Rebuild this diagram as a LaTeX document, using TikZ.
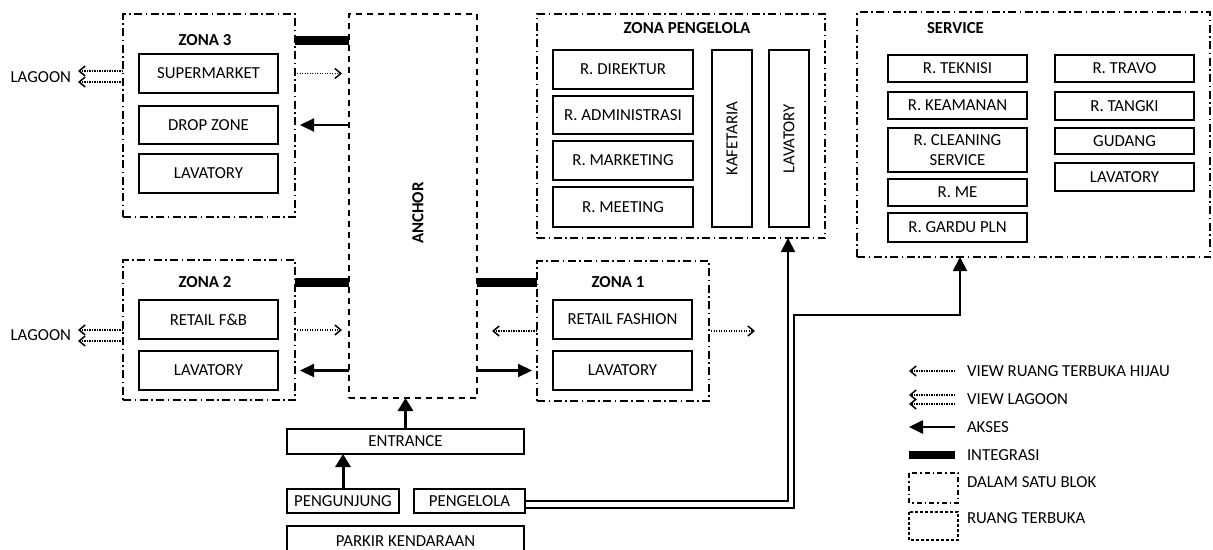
\documentclass[tikz,border=0pt]{standalone}
\usepackage{fontspec}
\setmainfont{Carlito}
\usetikzlibrary{arrows.meta,calc}
\begin{document}
\begin{tikzpicture}[x=1pt,y=-1pt,
  every node/.style={font=\fontsize{16.8}{20}\selectfont, inner sep=0pt, outer sep=0pt},
  blok/.style={draw, line width=1.4pt, dash pattern=on 8pt off 3.5pt on 1.5pt off 3.5pt},
  ruang/.style={draw, line width=2.2pt, dash pattern=on 6pt off 5pt},
  room/.style={draw, line width=1.6pt, align=center},
  ttl/.style={font=\fontsize{16.8}{20}\selectfont\bfseries},
  view/.style={line width=1.6pt, dash pattern=on 1.2pt off 1.3pt, -{Straight Barb[length=6pt,width=10pt,line width=1.5pt]}},
  akses/.style={line width=2.2pt, -{Triangle[length=14pt,width=13pt]}},
  akses2/.style={line width=3pt, -{Triangle[length=13pt,width=15pt]}},
  akses3/.style={line width=1.9pt, -{Triangle[length=14pt,width=14pt]}},
  integ/.style={line width=9pt},
]
\useasboundingbox (0,0) rectangle (1213,549);

% ---------- ZONA 3 ----------
\node[blok, minimum width=172pt, minimum height=203pt] (z3) at (209,115.5) {};
\node[ttl] (t3) at (205,40) {ZONA 3};
\node[room, minimum width=139pt, minimum height=39pt] (sup) at (208.5,73.5) {SUPERMARKET};
\node[room, minimum width=139pt, minimum height=38pt] (drop) at (208.5,125) {DROP ZONE};
\node[room, minimum width=139pt, minimum height=39pt] (lav3) at (208.5,173.5) {LAVATORY};
\node[anchor=east] (lag3) at (71,77) {LAGOON};

% ---------- ZONA 2 ----------
\node[blok, minimum width=172pt, minimum height=140pt] (z2) at (209,330) {};
\node[ttl] (t2) at (205,282.5) {ZONA 2};
\node[room, minimum width=139pt, minimum height=39pt] (rfb) at (208.5,319.5) {RETAIL F\&B};
\node[room, minimum width=139pt, minimum height=39pt] (lav2) at (208.5,370.5) {LAVATORY};
\node[anchor=east] (lag2) at (71,335) {LAGOON};

% ---------- ANCHOR ----------
\node[ruang, minimum width=128pt, minimum height=384pt] (anchor) at (413,206) {};
\node[ttl, rotate=90] (anchortxt) at (418,213) {ANCHOR};

% ---------- ZONA 1 ----------
\node[blok, minimum width=172pt, minimum height=140pt] (z1) at (623,331) {};
\node[ttl] (t1) at (618,282.5) {ZONA 1};
\node[room, minimum width=139pt, minimum height=39pt] (rf) at (622.5,319.5) {RETAIL FASHION};
\node[room, minimum width=139pt, minimum height=39pt] (lav1) at (622.5,370.5) {LAVATORY};

% ---------- ZONA PENGELOLA ----------
\node[blok, minimum width=288pt, minimum height=224pt] (zp) at (681,126) {};
\node[ttl] (tzp) at (687,28) {ZONA PENGELOLA};
\node[room, minimum width=140pt, minimum height=39pt] (dir) at (623,69.5) {R. DIREKTUR};
\node[room, minimum width=140pt, minimum height=38pt] (adm) at (623,115) {R. ADMINISTRASI};
\node[room, minimum width=140pt, minimum height=39pt] (mkt) at (623,160.5) {R. MARKETING};
\node[room, minimum width=140pt, minimum height=40pt] (mtg) at (623,207) {R. MEETING};
\node[room, minimum width=40pt, minimum height=177pt] (kaf) at (732,138.5) {};
\node[rotate=90] (kaftxt) at (732,138.5) {KAFETARIA};
\node[room, minimum width=40pt, minimum height=177pt] (lavp) at (789,138.5) {};
\node[rotate=90] (lavptxt) at (789,138.5) {LAVATORY};

% ---------- SERVICE ----------
\node[blok, minimum width=353pt, minimum height=245pt] (srv) at (1033.5,134.5) {};
\node[ttl, anchor=west] (tsrv) at (927,28) {SERVICE};
\node[room, minimum width=139pt, minimum height=27pt] (tek) at (957.5,68.5) {R. TEKNISI};
\node[room, minimum width=139pt, minimum height=27pt] (kea) at (957.5,105.5) {R. KEAMANAN};
\node[room, minimum width=139pt, minimum height=44pt] (cln) at (957.5,150) {R. CLEANING\\SERVICE};
\node[room, minimum width=139pt, minimum height=27pt] (me) at (957.5,192.5) {R. ME};
\node[room, minimum width=139pt, minimum height=29pt] (gardu) at (957.5,227.5) {R. GARDU PLN};
\node[room, minimum width=139pt, minimum height=27pt] (travo) at (1124.5,68.5) {R. TRAVO};
\node[room, minimum width=139pt, minimum height=28pt] (tangki) at (1124.5,106) {R. TANGKI};
\node[room, minimum width=139pt, minimum height=26pt] (gudang) at (1124.5,141) {GUDANG};
\node[room, minimum width=139pt, minimum height=28pt] (lavs) at (1124.5,177) {LAVATORY};

% ---------- ENTRANCE / PARKIR ----------
\node[room, minimum width=237pt, minimum height=25pt] (ent) at (405.5,441.5) {ENTRANCE};
\node[room, minimum width=112pt, minimum height=24pt] (pgj) at (343,501) {PENGUNJUNG};
\node[room, minimum width=111pt, minimum height=24pt] (pgl) at (469.5,501) {PENGELOLA};
\node[room, minimum width=237pt, minimum height=30pt] (park) at (405.5,541) {PARKIR KENDARAAN};

% ---------- CONNECTORS ----------
% zona 3
\draw[integ] (z3.east |- t3) -- (anchor.west |- t3);
\draw[view, shorten <=2pt, shorten >=7pt] (z3.east |- sup) -- (anchor.west |- sup);
\draw[akses, shorten >=5pt] (anchor.west |- drop) -- (z3.east |- drop);
\draw[view, shorten >=7pt] ($(z3.west |- sup)+(0,-2.5)$) -- ($(lag3.east |- sup)+(0,-2.5)$);
\draw[view, shorten >=7pt] ($(z3.west |- sup)+(0,8.5)$) -- ($(lag3.east |- sup)+(0,8.5)$);
% zona 2
\draw[integ] (z2.east |- t2) -- (anchor.west |- t2);
\draw[view, shorten <=2pt, shorten >=7pt] (z2.east) -- (anchor.west |- z2.east);
\draw[akses, shorten >=5pt] (anchor.west |- lav2) -- (z2.east |- lav2);
\draw[view, shorten >=7pt] (z2.west) -- (lag2.east |- z2.west);
\draw[view, shorten >=7pt] ($(z2.west)+(0,11)$) -- ($(lag2.east |- z2.west)+(0,11)$);
% zona 1
\draw[integ] (anchor.east |- t1) -- (z1.west |- t1);
\draw[view, shorten >=15pt] (z1.west) -- (anchor.east |- z1.west);
\coordinate (v1) at (755,331);
\draw[view, shorten <=2pt] (z1.east) -- (v1);
\draw[akses, shorten >=5pt] (anchor.east |- lav1) -- (z1.west |- lav1);
% entrance
\draw[akses2] (ent.north) -- (ent.north |- anchor.south);
\draw[akses2] (pgj.north) -- (pgj.north |- ent.south);
% pengelola routes
\coordinate (k1) at (788,501);
\coordinate (k2) at (794,315);
\coordinate (k3) at (960,315);
\draw[akses3] (pgl.east) -| (zp.south -| k1);
\draw[akses3] ($(pgl.east)+(0,7)$) -| (k2) -| (srv.south -| k3);

% ---------- LEGEND ----------
\node[anchor=west] (lg1) at (967,371) {VIEW RUANG TERBUKA HIJAU};
\node[anchor=west] (lg2) at (967,399) {VIEW LAGOON};
\node[anchor=west] (lg3) at (967,427) {AKSES};
\node[anchor=west] (lg4) at (967,455) {INTEGRASI};
\node[anchor=west] (lg5) at (967,482) {DALAM SATU BLOK};
\node[anchor=west] (lg6) at (967,518) {RUANG TERBUKA};
\draw[view] (955,371) -- (909,371);
\draw[view] (955,395) -- (909,395);
\draw[view] (955,404) -- (909,404);
\draw[akses, line width=2.6pt] (955,427) -- (909,427);
\draw[integ, line width=8pt] (909,455) -- (955,455);
\draw[line width=1.4pt, dash pattern=on 5pt off 3pt on 1.5pt off 3pt] (909,473) rectangle (958,503);
\draw[line width=1.4pt, dash pattern=on 3pt off 2pt] (909,512) rectangle (958,540);
\end{tikzpicture}
\end{document}
